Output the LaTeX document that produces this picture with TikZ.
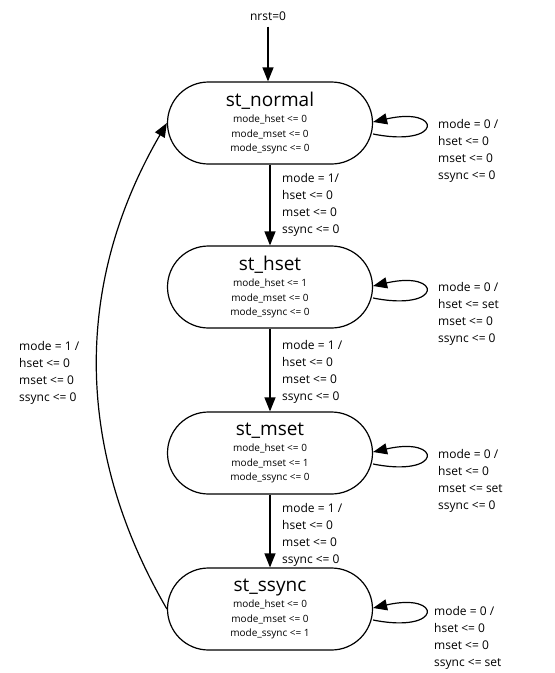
\documentclass[tikz,border=0pt]{standalone}
\usepackage{fontspec}
\setmainfont{Open Sans}
\usepackage{tikz}
\usetikzlibrary{positioning, calc, arrows.meta}
\tikzset{
    base/.style={
        font=\fontsize{12}{17}\selectfont,
        align=left,
        inner sep=0pt
    },
    state/.style={
        rectangle,
        rounded corners=41pt,
        draw=black,
        line width=1.2pt,
        fill=white,
        minimum width=205pt,
        minimum height=82pt,
        align=center,
        font=\fontsize{10}{14.5}\selectfont
    },
    flow/.style={
        -{Triangle[length=14pt,width=11pt]},
        line width=1.2pt
    },
    cond/.style={
        base,
        anchor=west
    }
}
\newcommand{\sttitle}[1]{{\fontsize{19}{24}\selectfont #1}\\[2pt]}

\begin{document}
\begin{tikzpicture}[x=1pt, y=1pt]
  \useasboundingbox (0,0) rectangle (555,-673);

  % States
  \node[state] (normal) at (270,-123) {\sttitle{st\_normal}mode\_hset <= 0\\mode\_mset <= 0\\mode\_ssync <= 0};
  \node[state] (hset) at (270,-287) {\sttitle{st\_hset}mode\_hset <= 1\\mode\_mset <= 0\\mode\_ssync <= 0};
  \node[state] (mset) at (270,-453) {\sttitle{st\_mset}mode\_hset <= 0\\mode\_mset <= 1\\mode\_ssync <= 0};
  \node[state] (ssync) at (270,-609) {\sttitle{st\_ssync}mode\_hset <= 0\\mode\_mset <= 0\\mode\_ssync <= 1};

  % Reset
  \node[base] (nrst) at (268,-16) {nrst=0};
  \draw[flow] (nrst.south) ++(0,-6) coordinate (rst) -- (rst |- normal.north);

  % Forward transitions
  \draw[flow] (normal) -- (hset);
  \draw[flow] (hset) -- (mset);
  \draw[flow] (mset) -- (ssync);
  \node[cond] (c1) at (282,-205) {mode = 1/\\hset <= 0\\mset <= 0\\ssync <= 0};
  \node[cond] (c2) at (282,-372) {mode = 1 /\\hset <= 0\\mset <= 0\\ssync <= 0};
  \node[cond] (c3) at (282,-535) {mode = 1 /\\hset <= 0\\mset <= 0\\ssync <= 0};

  % Back to normal
  \draw[flow] (ssync.west) .. controls +(-93,160) and +(-93,-160) .. (normal.west);
  \node[cond] (c4) at (19,-373) {mode = 1 /\\hset <= 0\\mset <= 0\\ssync <= 0};

  % Self loops
  \foreach \s in {normal, hset, mset, ssync}
    \draw[flow] ($(\s.east)+(0,-11)$) .. controls +(70,-14) and +(70,16) .. ($(\s.east)+(0,1)$);
  \node[cond] (l1) at (438,-151) {mode = 0 /\\hset <= 0\\mset <= 0\\ssync <= 0};
  \node[cond] (l2) at (438,-314) {mode = 0 /\\hset <= set\\mset <= 0\\ssync <= 0};
  \node[cond] (l3) at (438,-481) {mode = 0 /\\hset <= 0\\mset <= set\\ssync <= 0};
  \node[cond] (l4) at (434,-638) {mode = 0 /\\hset <= 0\\mset <= 0\\ssync <= set};
\end{tikzpicture}
\end{document}
